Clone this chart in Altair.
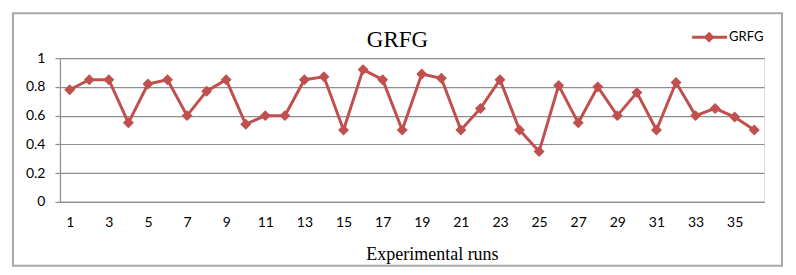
import altair as alt
import pandas as pd

runs = list(range(1, 37))
grfg = [0.78, 0.85, 0.85, 0.55, 0.82, 0.85, 0.60, 0.77, 0.85, 0.54,
        0.60, 0.60, 0.85, 0.87, 0.50, 0.92, 0.85, 0.50, 0.89, 0.86,
        0.50, 0.65, 0.85, 0.50, 0.35, 0.81, 0.55, 0.80, 0.60, 0.76,
        0.50, 0.83, 0.60, 0.65, 0.59, 0.50]
y_ticks = [0, 0.2, 0.4, 0.6, 0.8, 1]

title_text = "GRFG"
x_title = "Experimental runs"
legend_label = "GRFG"

RED = "#C0504D"
GRID = "#8E8E8E"

df = pd.DataFrame({"run": runs, "value": grfg})
one = pd.DataFrame({"k": [0]})

W, H = 705, 144

x = alt.X("run:O", title=None,
          scale=alt.Scale(paddingInner=0, paddingOuter=0, align=0.5),
          axis=alt.Axis(labelAngle=0, ticks=False, grid=False, domain=True,
                        domainColor=GRID, domainWidth=1.2,
                        labelExpr="datum.value % 2 == 1 ? datum.label : ''",
                        labelFont="Lato", labelFontSize=14, labelColor="#000",
                        labelPadding=14))
y = alt.Y("value:Q", title=None,
          scale=alt.Scale(domain=[0, 1], nice=False, zero=True),
          axis=alt.Axis(values=y_ticks, grid=True, gridColor=GRID, gridWidth=1.2,
                        domainColor=GRID, domainWidth=1.2, tickColor=GRID,
                        tickSize=5, tickWidth=1.2, labelFont="Lato",
                        labelFontSize=14, labelColor="#000", labelPadding=10,
                        labelExpr="datum.value == 0 || datum.value == 1 ? format(datum.value, 'd') : format(datum.value, '.1f')"))

line = alt.Chart(df).mark_line(color=RED, strokeWidth=3).encode(x=x, y=y)
pts = alt.Chart(df).mark_point(shape="diamond", filled=True, color=RED,
                               size=120, opacity=1).encode(x=x, y=y)

border = alt.Chart(one).mark_rect(fill=None, stroke="#A8A8A8", strokeWidth=2,
                                  clip=False).encode(
    x=alt.value(-47), x2=alt.value(723), y=alt.value(-45), y2=alt.value(208))

title = alt.Chart(one).mark_text(text=title_text, font="Liberation Serif",
                                 fontSize=23, baseline="alphabetic",
                                 align="center", color="#000").encode(
    x=alt.value(338), y=alt.value(-11))

xt = alt.Chart(one).mark_text(text=x_title, font="Liberation Serif",
                              fontSize=18, baseline="alphabetic",
                              align="center", color="#000").encode(
    x=alt.value(373), y=alt.value(202))

leg_line = alt.Chart(one).mark_rule(color=RED, strokeWidth=3).encode(
    x=alt.value(633), x2=alt.value(668), y=alt.value(-21))
leg_pt = alt.Chart(one).mark_point(shape="diamond", filled=True, color=RED,
                                   size=120, opacity=1).encode(
    x=alt.value(650), y=alt.value(-21))
leg_txt = alt.Chart(one).mark_text(text=legend_label, font="Lato", fontSize=13,
                                   align="left", baseline="middle",
                                   color="#000").encode(
    x=alt.value(670), y=alt.value(-21))

chart = alt.layer(border, line, pts, title, xt, leg_line, leg_pt, leg_txt).properties(
    width=W, height=H,
    autosize=alt.AutoSizeParams(type="none"),
    padding={"left": 52, "top": 50, "right": 24, "bottom": 70},
).configure_view(stroke=None).configure(background="white")

chart.save("out.html", embed_options={"renderer": "svg", "actions": False})
